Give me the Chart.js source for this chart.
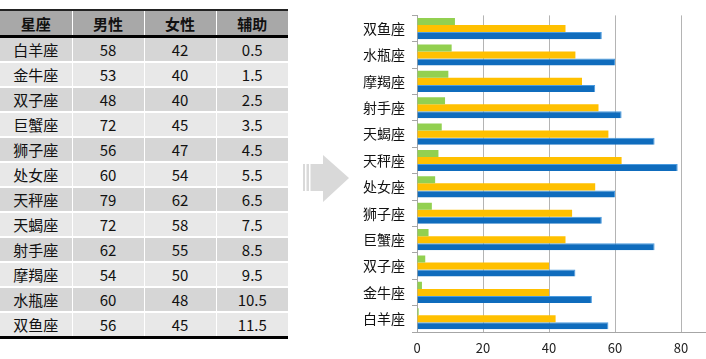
<!DOCTYPE html>
<html lang="zh">
<head>
  <meta charset="UTF-8">
  <title>星座 男性 女性</title>
  <script src="https://cdn.jsdelivr.net/npm/chart.js"></script>
  <style>
    html, body { margin: 0; padding: 0; background: #fff; overflow: hidden; }
    body { width: 706px; height: 359px; position: relative; font-family: "Noto Sans CJK SC", "Noto Sans", sans-serif; }
    #tabla { position: absolute; left: 0; top: 9px; width: 288px; border-collapse: collapse; table-layout: fixed; font-size: 15px; color: #111; }
    #tabla th { background: #a8a8a8; height: 24px; font-weight: bold; border-top: 2px solid #222; border-bottom: 3px solid #000; border-left: 1px solid #fff; padding: 0; }
    #tabla td { height: 23px; text-align: center; padding: 0; border-left: 1px solid #fff; border-top: 2px solid #fff; line-height: 23px; }
    #tabla th:first-child, #tabla td:first-child { border-left: none; }
    #tabla tr:nth-child(odd) td { background: #d6d6d6; }
    #tabla tr:nth-child(even) td { background: #e8e8e8; }
    #tabla tbody tr:last-child td { border-bottom: 3px solid #000; }
    #flecha { position: absolute; left: 298px; top: 150px; }
    #lienzo { position: absolute; left: 340px; top: 0; width: 374px; height: 359px; }
  </style>
</head>
<body>

  <!-- Tabla de datos -->
  <table id="tabla">
    <thead><tr id="cabecera"></tr></thead>
    <tbody id="cuerpo"></tbody>
  </table>

  <!-- Flecha -->
  <svg id="flecha" width="56" height="60">
    <polygon points="5,14 25,14 25,5 51,28 25,52 25,41 5,41" fill="#d9d9d9"/>
    <rect x="7" y="14" width="1.5" height="27" fill="#fff"/>
    <rect x="11" y="14" width="1.5" height="27" fill="#fff"/>
  </svg>

  <div id="lienzo"><canvas id="grafico"></canvas></div>

  <script>
    const columnas = ['星座', '男性', '女性', '辅助'];
    const signos = ['白羊座', '金牛座', '双子座', '巨蟹座', '狮子座', '处女座', '天秤座', '天蝎座', '射手座', '摩羯座', '水瓶座', '双鱼座'];
    const hombres = [58, 53, 48, 72, 56, 60, 79, 72, 62, 54, 60, 56];
    const mujeres = [42, 40, 40, 45, 47, 54, 62, 58, 55, 50, 48, 45];
    const auxiliar = [0.5, 1.5, 2.5, 3.5, 4.5, 5.5, 6.5, 7.5, 8.5, 9.5, 10.5, 11.5];
    const ticksX = [0, 20, 40, 60, 80];

    // Cargar la tabla
    document.getElementById('cabecera').innerHTML = columnas.map(c => `<th>${c}</th>`).join('');
    const cuerpo = document.getElementById('cuerpo');
    signos.forEach((s, i) => {
      cuerpo.innerHTML += `<tr><td>${s}</td><td>${hombres[i]}</td><td>${mujeres[i]}</td><td>${auxiliar[i]}</td></tr>`;
    });

    // Gráfico de barras horizontales
    const ctx = document.getElementById('grafico').getContext('2d');
    new Chart(ctx, {
      type: 'bar',
      data: {
        labels: signos,
        datasets: [
          { label: '辅助', data: auxiliar, backgroundColor: '#92d050' },
          { label: '女性', data: mujeres, backgroundColor: '#ffc000' },
          { label: '男性', data: hombres, backgroundColor: '#0f6cbd', borderColor: '#4a9be0', borderWidth: { top: 1, right: 1 } }
        ]
      },
      options: {
        indexAxis: 'y',
        responsive: true,
        maintainAspectRatio: false,
        animation: false,
        datasets: { bar: { categoryPercentage: 0.8, barPercentage: 1.0 } },
        layout: { padding: { top: 5, right: 0, left: 0, bottom: 0 } },
        plugins: { legend: { display: false }, tooltip: { enabled: false } },
        scales: {
          y: {
            reverse: true,
            afterFit: s => { s.width = 77; },
            grid: { drawOnChartArea: false, tickLength: 5, color: '#a6a6a6' },
            border: { color: '#a6a6a6' },
            ticks: { color: '#111', padding: 7, font: { family: '"Noto Sans CJK SC"', size: 14 } }
          },
          x: {
            min: 0,
            max: 90,
            afterFit: s => { s.height = 27; },
            afterBuildTicks: s => { s.ticks = ticksX.map(v => ({ value: v })); },
            grid: { drawTicks: false, color: '#b4b4b4' },
            border: { color: '#a6a6a6' },
            ticks: { color: '#222', padding: 8, font: { family: '"Noto Sans CJK SC"', size: 13 } }
          }
        }
      }
    });
  </script>
</body>
</html>
